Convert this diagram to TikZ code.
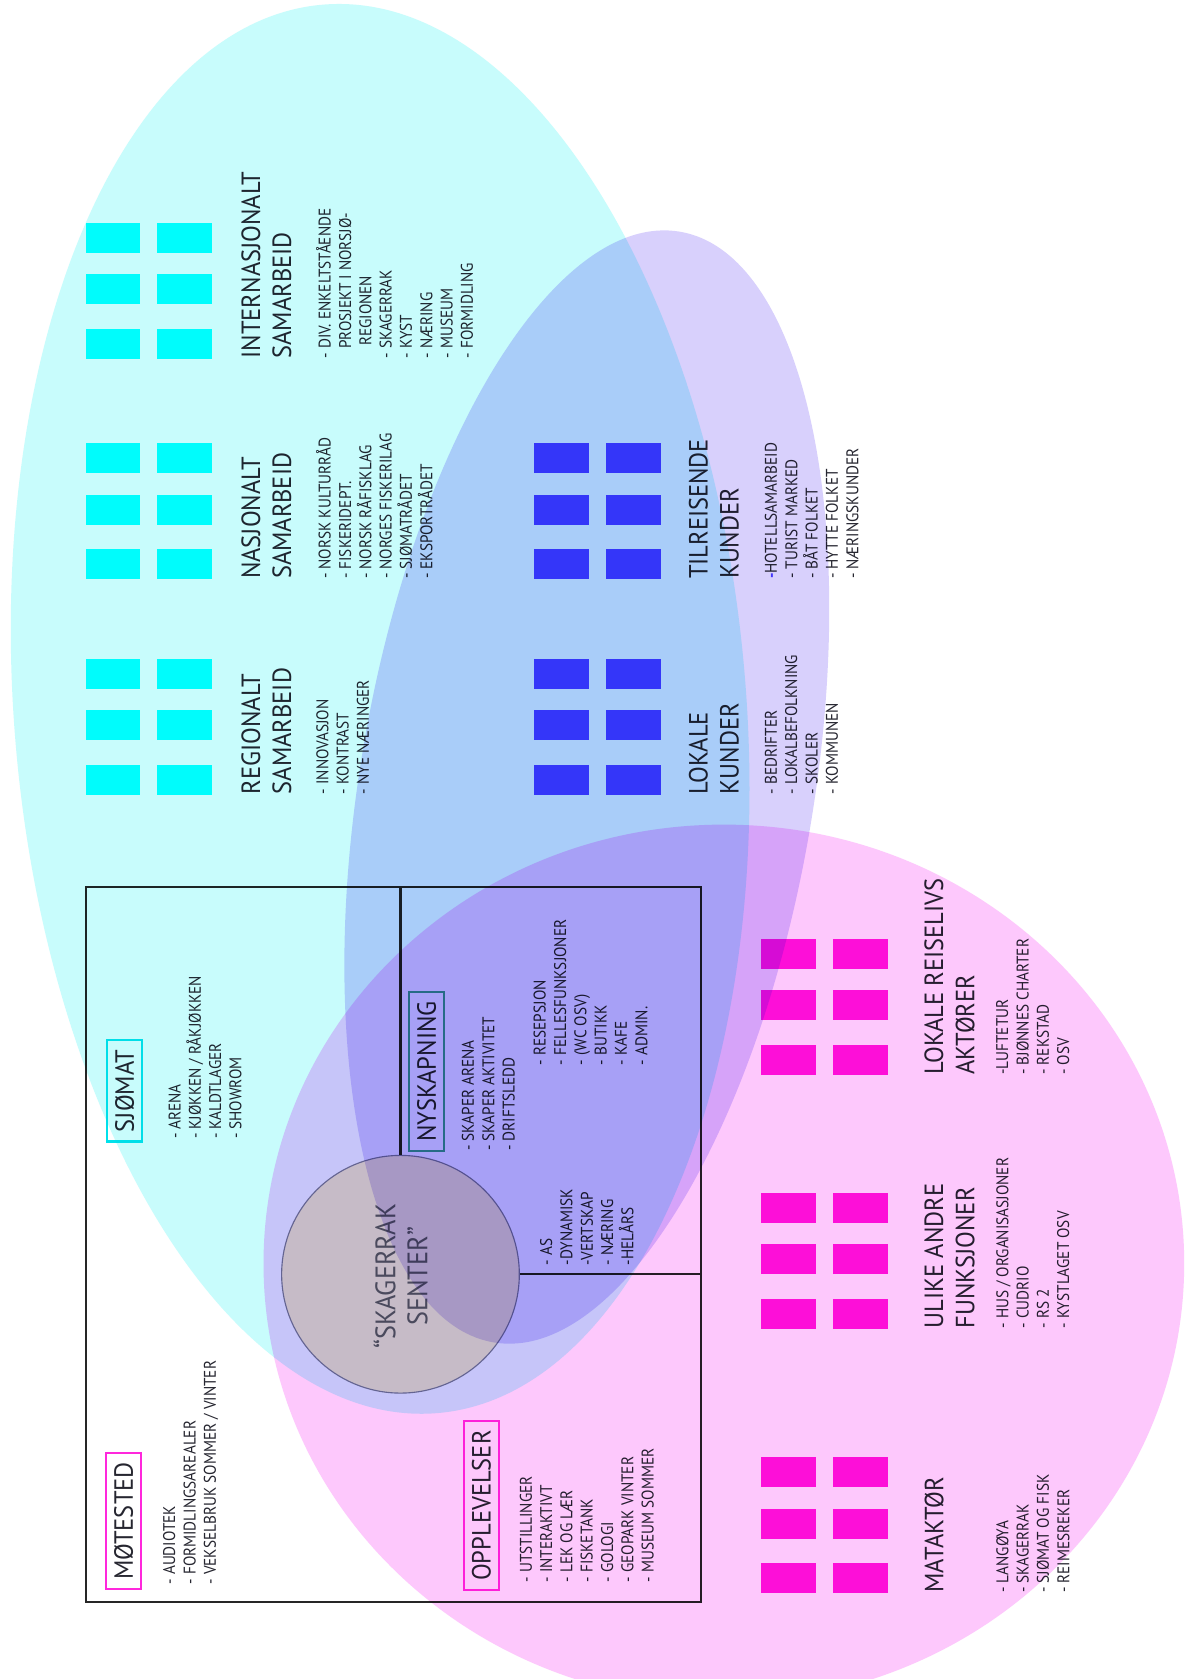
\documentclass[tikz,border=0pt]{standalone}
\usepackage{fontspec}
\setmainfont{PT Sans}
\newfontfamily\tittelfont[FakeStretch=0.93]{PT Sans}
\newfontfamily\listefont[FakeStretch=0.9]{PT Sans}

\definecolor{cyanflate}{RGB}{200,252,252}
\definecolor{lillaflate}{RGB}{216,208,252}
\definecolor{rosaflate}{RGB}{253,200,252}
\definecolor{cyanblokk}{RGB}{0,255,255}
\definecolor{blaablokk}{RGB}{80,68,255}
\definecolor{rosablokk}{RGB}{255,20,219}
\definecolor{tekst}{RGB}{38,38,48}
\definecolor{senterfyll}{RGB}{255,242,205}
\definecolor{senterkant}{RGB}{130,130,150}
\definecolor{cyankant}{RGB}{0,225,235}
\definecolor{rosakant}{RGB}{255,40,220}
\definecolor{groennkant}{RGB}{60,170,140}

\tikzset{
	tittel/.style={rotate=90, anchor=north west, inner sep=0pt, align=left, text=tekst, font=\tittelfont\fontsize{14}{16.5}\selectfont},
	liste/.style={rotate=90, anchor=north west, inner sep=0pt, align=left, text=tekst, font=\listefont\fontsize{9}{10.8}\selectfont},
	etikett/.style={rotate=90, anchor=north west, inner xsep=5pt, inner ysep=4.5pt, line width=1.1pt, text=tekst, text height=9.8pt, text depth=0pt, font=\tittelfont\fontsize{14}{16.5}\selectfont},
	ramme/.style={line width=1.1pt, black!85},
}

% seks ruter, venstre kant #1, nederste kant #2
\def\blokk(#1,#2)#3{
	\fill[#3] (#1,-#2) rectangle ++(51,28);
	\fill[#3] ({#1+67},-#2) rectangle ++(51,28);
	\fill[#3] (#1,{51-#2}) rectangle ++(51,28);
	\fill[#3] ({#1+67},{51-#2}) rectangle ++(51,28);
	\fill[#3] (#1,{99-#2}) rectangle ++(51,28);
	\fill[#3] ({#1+67},{99-#2}) rectangle ++(51,28);
}

\begin{document}
\begin{tikzpicture}[x=0.02cm, y=0.02cm]
			%%%%% START %%%%%
			
			\useasboundingbox (0,0) rectangle (1113,-1568);
			\fill[white] (0,0) rectangle (1113,-1568);
			\clip (0,0) rectangle (1113,-1568);
			
			% samarbeid
			\blokk(80,335){cyanblokk}
			\node[tittel] (internasjonalt) at (225,-335) {INTERNASJONALT\\SAMARBEID};
			\node[liste] (internasjonaltliste) at (295,-335) {- DIV. ENKELTSTÅENDE\\\phantom{- }PROSJEKT I NORSJØ-\\\phantom{- }\,REGIONEN\\- SKAGERRAK\\- KYST\\- NÆRING\\- MUSEUM\\- FORMIDLING};
			
			\blokk(80,541){cyanblokk}
			\node[tittel] (nasjonalt) at (225,-541) {NASJONALT\\SAMARBEID};
			\node[liste] (nasjonaltliste) at (295,-541) {- NORSK KULTURRÅD\\- FISKERIDEPT.\\- NORSK RÅFISKLAG\\- NORGES FISKERILAG\\- SJØMATRÅDET\\- EKSPORTRÅDET};
			
			\blokk(80,742){cyanblokk}
			\node[tittel] (regionalt) at (225,-742) {REGIONALT\\SAMARBEID};
			\node[liste] (regionaltliste) at (295,-742) {- INNOVASJON\\- KONTRAST\\- NYE NÆRINGER};
			
			% kunder
			\blokk(499,541){blaablokk}
			\node[tittel] (tilreisende) at (643,-541) {TILREISENDE\\KUNDER};
			\node[liste] (tilreisendeliste) at (714,-541) {{\color{blaablokk}\textbf{-}}HOTELLSAMARBEID\\- TURIST MARKED\\- BÅT FOLKET\\- HYTTE FOLKET\\- NÆRINGSKUNDER};
			
			\blokk(499,742){blaablokk}
			\node[tittel] (lokale) at (643,-742) {LOKALE\\KUNDER};
			\node[liste] (lokaleliste) at (714,-742) {- BEDRIFTER\\- LOKALBEFOLKNING\\- SKOLER\\- KOMMUNEN};
			
			% aktører
			\blokk(711,1004){rosablokk}
			\node[tittel] (reiseliv) at (863,-1004) {LOKALE REISELIVS\\AKTØRER};
			\node[liste] (reiselivliste) at (930,-1004) {-LUFTETUR\\- BJØNNES CHARTER\\- REKSTAD\\- OSV};
			
			\blokk(711,1241){rosablokk}
			\node[tittel] (funksjoner) at (863,-1241) {ULIKE ANDRE\\FUNKSJONER};
			\node[liste] (funksjonerliste) at (930,-1241) {- HUS / ORGANISASJONER\\- CUDRIO\\- RS 2\\- KYSTLAGET OSV};
			
			\blokk(711,1488){rosablokk}
			\node[tittel] (mataktor) at (863,-1488) {MATAKTØR};
			\node[liste] (mataktorliste) at (930,-1488) {- LANGØYA\\- SKAGERRAK\\- SJØMAT OG FISK\\- REIMESREKER};
			
			% senteret
			\draw[ramme] (80,-828) rectangle (655,-1496);
			\node[circle, minimum size=4.44cm, inner sep=0pt, fill=senterfyll, draw=senterkant, line width=0.6pt] (sentrum) at (374,-1190) {};
			\draw[ramme] (sentrum.north) -- (374,-828);
			\draw[ramme] (sentrum.east) -- (655,-1190);
			\node[rotate=90, align=center, text=black!62, font=\tittelfont\fontsize{15}{17}\selectfont] (senternavn) at (374,-1192) {“SKAGERRAK\\SENTER”};
			
			\node[etikett, draw=cyankant] (sjomat) at (99,-1067) {SJØMAT};
			\node[liste] (sjomatliste) at (157,-1064) {- ARENA\\- KJØKKEN / RÅKJØKKEN\\- KALDTLAGER\\- SHOWROM};
			
			\node[etikett, draw=rosakant] (motested) at (98,-1485) {MØTESTED};
			\node[liste] (motestedliste) at (152,-1480) {- AUDIOTEK\\- FORMIDLINGSAREALER\\- VEKSELBRUK SOMMER / VINTER};
			
			\node[etikett, draw=rosakant] (opplevelser) at (432,-1486) {OPPLEVELSER};
			\node[liste] (opplevelserliste) at (485,-1478) {- UTSTILLINGER\\- INTERAKTIVT\\- LEK OG LÆR\\- FISKETANK\\- GOLOGI\\- GEOPARK VINTER\\- MUSEUM SOMMER};
			
			\node[etikett, draw=groennkant] (nyskapning) at (381,-1076) {NYSKAPNING};
			\node[liste] (nyskapningliste) at (431,-1075) {- SKAPER ARENA\\- SKAPER AKTIVITET\\- DRIFTSLEDD};
			\node[liste] (fellesliste) at (498,-995) {- RESEPSJON\\- FELLESFUNKSJONER\\- (WC OSV)\\- BUTIKK\\- KAFE\\- ADMIN.};
			\node[liste] (selskapliste) at (504,-1182) {- AS\\-DYNAMISK\\-VERTSKAP\\- NÆRING\\-HELÅRS};
			
			% flatene legges over alt
			\begin{scope}[blend mode=multiply]
				\fill[cyanflate, rotate around={4.6:(355,-662)}] (355,-662) ellipse [x radius=6.84cm, y radius=13.2cm];
				\fill[lillaflate, rotate around={-9.5:(548,-735)}] (548,-735) ellipse [x radius=4.24cm, y radius=10.52cm];
				\fill[rosaflate] (676,-1180) ellipse [x radius=8.6cm, y radius=8.2cm];
			\end{scope}
			
			%%%%% END %%%%%
\end{tikzpicture}
\end{document}
